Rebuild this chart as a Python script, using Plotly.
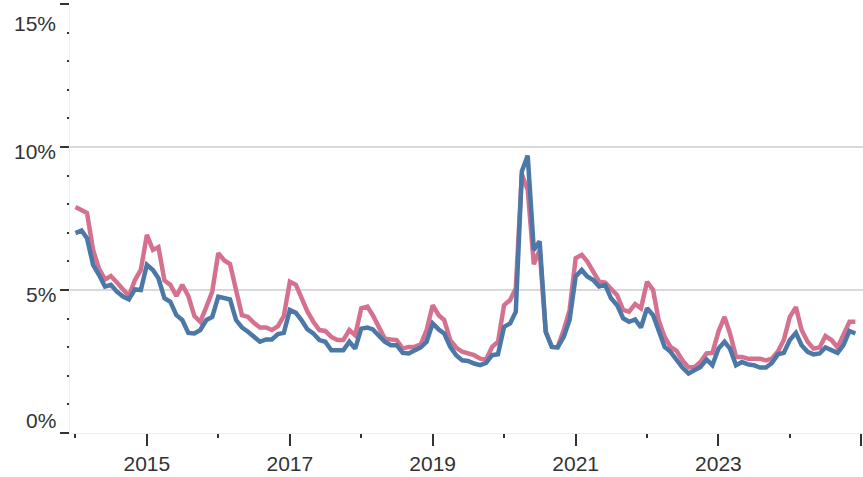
import pandas as pd
import plotly.graph_objects as go

months = pd.date_range("2014-01-01", periods=132, freq="MS")

pink_values = [
    7.90, 7.81, 7.69, 6.40, 5.75, 5.37, 5.49, 5.26, 5.00, 4.79, 5.35, 5.70,
    6.93, 6.40, 6.50, 5.33, 5.18, 4.79, 5.18, 4.79, 4.09, 3.89, 4.41, 4.94,
    6.29, 6.03, 5.91, 4.95, 4.12, 4.06, 3.85, 3.69, 3.69, 3.60, 3.74, 4.09,
    5.29, 5.18, 4.71, 4.24, 3.89, 3.60, 3.57, 3.36, 3.25, 3.25, 3.60, 3.42,
    4.36, 4.42, 4.12, 3.71, 3.30, 3.27, 3.25, 2.95, 3.01, 3.01, 3.10, 3.60,
    4.47, 4.12, 3.95, 3.25, 2.99, 2.84, 2.80, 2.72, 2.60, 2.57, 3.01, 3.19,
    4.47, 4.65, 5.06, 9.05, 8.50, 5.90, 6.40, 3.54, 3.01, 3.00, 3.60, 4.30,
    6.11, 6.23, 6.00, 5.64, 5.29, 5.26, 5.06, 4.82, 4.30, 4.24, 4.51, 4.36,
    5.29, 5.00, 3.95, 3.36, 3.01, 2.87, 2.54, 2.29, 2.31, 2.48, 2.78, 2.80,
    3.54, 4.06, 3.48, 2.66, 2.66, 2.60, 2.60, 2.60, 2.54, 2.60, 2.85, 3.25,
    4.06, 4.40, 3.60, 3.19, 2.95, 2.99, 3.39, 3.25, 2.99, 3.42, 3.89, 3.89,
]

blue_values = [
    6.99, 7.08, 6.81, 5.88, 5.53, 5.12, 5.18, 4.94, 4.77, 4.67, 5.02, 5.00,
    5.88, 5.70, 5.41, 4.71, 4.59, 4.12, 3.95, 3.50, 3.48, 3.60, 3.95, 4.06,
    4.77, 4.71, 4.67, 3.95, 3.69, 3.54, 3.39, 3.19, 3.27, 3.27, 3.46, 3.50,
    4.30, 4.20, 3.95, 3.62, 3.48, 3.25, 3.19, 2.89, 2.89, 2.89, 3.19, 2.95,
    3.65, 3.69, 3.62, 3.42, 3.19, 3.07, 3.07, 2.80, 2.78, 2.89, 2.99, 3.19,
    3.83, 3.62, 3.48, 3.01, 2.72, 2.54, 2.52, 2.43, 2.37, 2.45, 2.72, 2.75,
    3.71, 3.83, 4.24, 9.15, 9.70, 6.40, 6.70, 3.54, 3.01, 2.99, 3.36, 3.95,
    5.47, 5.70, 5.47, 5.35, 5.12, 5.18, 4.71, 4.47, 4.01, 3.89, 3.97, 3.69,
    4.36, 4.12, 3.60, 3.01, 2.84, 2.54, 2.29, 2.08, 2.19, 2.31, 2.57, 2.37,
    2.95, 3.19, 2.95, 2.37, 2.48, 2.40, 2.37, 2.29, 2.29, 2.45, 2.75, 2.80,
    3.25, 3.50, 3.07, 2.84, 2.75, 2.78, 2.99, 2.89, 2.80, 3.07, 3.57, 3.48,
]

y_tick_values = [0, 5, 10, 15]
y_tick_labels = ["0%", "5%", "10%", "15%"]

PINK = "#d5718f"
BLUE = "#4c78a8"
TEXT = "#333333"
FONT = "Liberation Sans"
FSIZE = 21

fig = go.Figure()
fig.add_trace(go.Scatter(x=months, y=pink_values, mode="lines",
                         line=dict(color=PINK, width=4.5), showlegend=False,
                         hoverinfo="skip"))
fig.add_trace(go.Scatter(x=months, y=blue_values, mode="lines",
                         line=dict(color=BLUE, width=4.5), showlegend=False,
                         hoverinfo="skip"))

fig.update_layout(
    width=863, height=477,
    margin=dict(l=70, r=0, t=4, b=44),
    paper_bgcolor="white", plot_bgcolor="white",
    font=dict(family=FONT, size=FSIZE, color=TEXT),
    showlegend=False,
)

fig.update_xaxes(
    type="date",
    range=["2013-12-04", "2025-01-09"],
    tickmode="linear", tick0="2015-01-01", dtick="M24", tickformat="%Y",
    ticks="outside", ticklen=12, tickwidth=2, tickcolor=TEXT,
    tickfont=dict(family=FONT, size=FSIZE, color=TEXT),
    showgrid=False, zeroline=False,
    showline=True, linecolor="#eeeeee", linewidth=1,
    minor=dict(tickmode="linear", tick0="2014-01-01", dtick="M12",
               ticks="outside", ticklen=4, tickwidth=2, tickcolor=TEXT,
               showgrid=False),
)

fig.update_yaxes(
    range=[0, 15],
    tickmode="array", tickvals=y_tick_values, ticktext=y_tick_labels,
    showticklabels=False,
    ticks="outside", ticklen=9, tickwidth=2, tickcolor=TEXT,
    showgrid=True, gridcolor="#d9d9d9", gridwidth=1.5,
    zeroline=False,
    showline=True, linecolor="#eeeeee", linewidth=1,
    minor=dict(tickmode="linear", tick0=0, dtick=1,
               ticks="outside", ticklen=2, tickwidth=2, tickcolor=TEXT,
               showgrid=False),
)

shifts = {0: 13, 5: -4, 10: -4, 15: -19}
for v, lab in zip(y_tick_values, y_tick_labels):
    fig.add_annotation(
        x=0, xref="paper", y=v, yref="y",
        text=lab, showarrow=False,
        xanchor="right", yanchor="middle",
        xshift=-12, yshift=shifts[v],
        font=dict(family=FONT, size=FSIZE, color=TEXT),
    )

fig.write_html(
    "out.html",
    config={"displayModeBar": False},
    post_script="document.body.style.margin='0';document.body.style.overflow='hidden';",
)
